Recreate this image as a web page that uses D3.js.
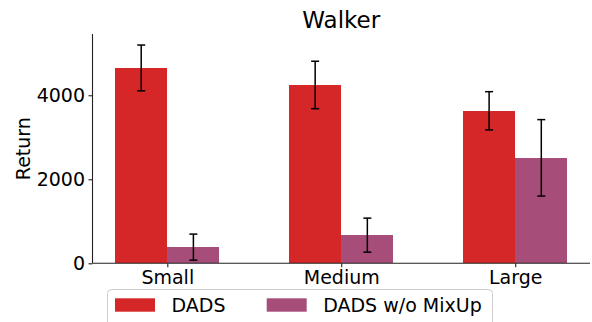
<!DOCTYPE html>
<html>
<head>
<meta charset="utf-8">
<script src="https://cdn.jsdelivr.net/npm/d3@7"></script>
<style>
  html, body { margin: 0; padding: 0; background: #fff; }
  svg { display: block; font-family: "DejaVu Sans", sans-serif; }
</style>
</head>
<body>
<svg id="chart" width="592" height="322"></svg>
<script>
// Walker returns by dataset size, with and without MixUp
const categories = ["Small", "Medium", "Large"];
const seriesNames = ["DADS", "DADS w/o MixUp"];
const dadsMean = [4650, 4245, 3630];
const dadsStd = [545, 565, 455];
const noMixMean = [385, 670, 2510];
const noMixStd = [310, 405, 910];
const yTicks = [0, 2000, 4000];

const colors = ["#d62728", "#a64e79"];
const barWidth = 0.3;

const svg = d3.select("#chart");
const plot = { left: 92.5, right: 590, top: 34, bottom: 263.3 };

const x = d3.scaleLinear().domain([-0.43, 2.43]).range([plot.left, plot.right]);
const y = d3.scaleLinear().domain([0, 5458]).range([plot.bottom, plot.top]);

const series = [
  { name: seriesNames[0], mean: dadsMean, std: dadsStd, offset: -barWidth / 2, color: colors[0] },
  { name: seriesNames[1], mean: noMixMean, std: noMixStd, offset: barWidth / 2, color: colors[1] }
];

// bars
series.forEach(s => {
  svg.append("g").attr("shape-rendering", "crispEdges").selectAll("rect")
    .data(categories)
    .join("rect")
    .attr("x", (d, i) => x(i + s.offset - barWidth / 2))
    .attr("width", (d, i) => x(i + s.offset + barWidth / 2) - x(i + s.offset - barWidth / 2))
    .attr("y", (d, i) => y(s.mean[i]))
    .attr("height", (d, i) => y(0) - y(s.mean[i]))
    .attr("fill", s.color);
});

// error bars
series.forEach(s => {
  const g = svg.append("g").attr("stroke", "#000").attr("stroke-width", 1.5);
  categories.forEach((c, i) => {
    const cx = x(i + s.offset);
    const lo = y(s.mean[i] - s.std[i]);
    const hi = y(s.mean[i] + s.std[i]);
    g.append("line").attr("x1", cx).attr("x2", cx).attr("y1", lo).attr("y2", hi);
    g.append("line").attr("x1", cx - 4).attr("x2", cx + 4).attr("y1", lo).attr("y2", lo);
    g.append("line").attr("x1", cx - 4).attr("x2", cx + 4).attr("y1", hi).attr("y2", hi);
  });
});

// axes
const yAxis = d3.axisLeft(y).tickValues(yTicks).tickSize(4).tickPadding(3.5).tickFormat(d3.format("d"));
const gy = svg.append("g").attr("transform", `translate(${plot.left},0)`).call(yAxis);
gy.select(".domain").attr("d", `M0,${plot.top}V${plot.bottom}`);

const xAxis = d3.axisBottom(x).tickValues([0, 1, 2]).tickSize(4).tickPadding(3.5)
  .tickFormat(i => categories[i]);
const gx = svg.append("g").attr("transform", `translate(0,${plot.bottom})`).call(xAxis);
gx.select(".domain").attr("d", `M${plot.left},0H${plot.right}`);

[gx, gy].forEach(g => {
  g.selectAll(".domain").attr("stroke", "#222").attr("stroke-width", 1.1);
  g.selectAll(".tick line").attr("stroke", "#222").attr("stroke-width", 1.1);
  g.selectAll(".tick text")
    .attr("fill", "#000")
    .style("font-family", "DejaVu Sans")
    .style("font-size", "19px");
});

// y-axis label
svg.append("text")
  .attr("transform", `translate(30,${(plot.top + plot.bottom) / 2}) rotate(-90)`)
  .attr("text-anchor", "middle")
  .style("font-size", "19px")
  .text("Return");

// title
svg.append("text")
  .attr("x", (plot.left + plot.right) / 2)
  .attr("y", 28.3)
  .attr("text-anchor", "middle")
  .style("font-size", "23px")
  .text("Walker");

// legend
const legend = svg.append("g");
legend.append("rect")
  .attr("x", 107.5).attr("y", 289.5)
  .attr("width", 385).attr("height", 44)
  .attr("rx", 4)
  .attr("fill", "#fff").attr("fill-opacity", 0.8)
  .attr("stroke", "#ccc").attr("stroke-width", 1);
const legendPos = [115, 266.7];
series.forEach((s, i) => {
  legend.append("rect")
    .attr("x", legendPos[i]).attr("y", 298.3)
    .attr("width", 40).attr("height", 13.4)
    .attr("fill", s.color);
  legend.append("text")
    .attr("x", legendPos[i] + 56.5).attr("y", 311.7)
    .style("font-size", "19px")
    .text(s.name);
});
</script>
</body>
</html>
